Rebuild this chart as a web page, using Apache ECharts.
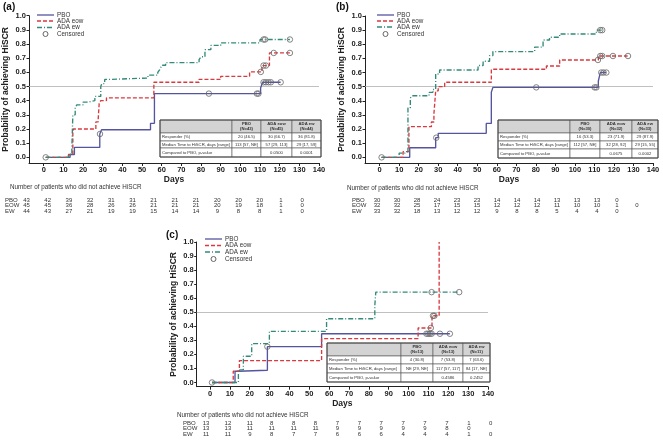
<!DOCTYPE html>
<html><head><meta charset="utf-8">
<script src="https://cdn.jsdelivr.net/npm/echarts@6/dist/echarts.min.js"></script>
<style>html,body{margin:0;padding:0;background:#fff}#c{width:663px;height:443px}</style>
</head><body><div id="c"></div>
<script>
const FONT = "'Liberation Sans', Arial, sans-serif";
const GROUPS = ['PBO', 'ADA eow', 'ADA ew'];
const LEGEND_ITEMS = ['PBO', 'ADA eow', 'ADA ew', 'Censored'];
const COLORS = ['#55559f', '#d93a3f', '#338a78'];
const LINE_TYPES = ['solid', [4, 2], [5, 2, 1, 2]];
const X_TICKS = [0, 10, 20, 30, 40, 50, 60, 70, 80, 90, 100, 110, 120, 130, 140];
const Y_TICKS = [0, 0.1, 0.2, 0.3, 0.4, 0.5, 0.6, 0.7, 0.8, 0.9, 1.0];
const PANEL_LABELS = ['(a)', '(b)', '(c)'];
const RISK_TITLE = 'Number of patients who did not achieve HiSCR';
const RISK_ROWS = ['PBO', 'EOW', 'EW'];
const TABLE_ROW_LABELS = ['Responder (%)', 'Median Time to HiSCR, days [range]', 'Compared to PBO, p-value'];

// ---- Panel (a) ----
const A_PBO = [[1,0],[13.4,0.02],[15.6,0.07],[28.5,0.165],[29.4,0.195],[54.3,0.24],[56.3,0.45],[110.3,0.49],[111.3,0.53],[120.5,0.53]];
const A_EOW = [[1,0],[12.6,0.02],[14.8,0.18],[15.1,0.2],[26.5,0.25],[27.7,0.27],[28.2,0.38],[29,0.4],[31.9,0.42],[56,0.53],[79,0.55],[90,0.572],[104.7,0.603],[111,0.648],[114.8,0.737],[125.2,0.737]];
const A_EW = [[1,0],[12.6,0.02],[14.3,0.07],[14.8,0.3],[16,0.35],[16.8,0.37],[20,0.39],[22.4,0.4],[26,0.43],[29,0.5],[29.5,0.52],[31,0.55],[33,0.56],[53,0.58],[58,0.6],[59,0.62],[60,0.65],[62,0.669],[79,0.69],[80,0.71],[82,0.76],[85,0.79],[90,0.808],[110,0.832],[125.2,0.832]];
const A_PBO_CENS = [[1,0],[28.6,0.165],[84,0.45],[108.4,0.45],[109.2,0.45],[111.8,0.53],[113,0.53],[114.3,0.53],[115.5,0.53],[120.5,0.53]];
const A_EOW_CENS = [[110.4,0.603],[111.8,0.648],[113,0.648],[117,0.737],[125.2,0.737]];
const A_EW_CENS = [[111.8,0.832],[112.6,0.832],[125.2,0.832]];
const A_HEAD = ['', 'PBO\n(N=43)', 'ADA eow\n(N=45)', 'ADA ew\n(N=44)'];
const A_RESP = ['20 (46.5)', '30 (66.7)', '36 (81.8)'];
const A_MEDIAN = ['113 [57, NE]', '57 [29, 113]', '29 [17, 59]'];
const A_PVAL = ['', '0.0500', '0.0001'];
const A_RISK_PBO = [43,42,39,32,31,31,21,21,21,20,20,20,1,0];
const A_RISK_EOW = [45,45,36,28,26,26,21,21,21,20,19,18,1,0];
const A_RISK_EW = [44,43,27,21,19,19,15,14,14,9,8,8,1,0];

// ---- Panel (b) ----
const B_PBO = [[1,0],[15.4,0.068],[28.7,0.139],[30,0.17],[54.6,0.24],[57.2,0.46],[58,0.495],[112,0.54],[113,0.6],[116,0.6]];
const B_EOW = [[1,0],[12,0.04],[15,0.217],[26.5,0.25],[27.8,0.31],[28.7,0.47],[30,0.5],[33.3,0.531],[57.2,0.623],[85.4,0.646],[92.2,0.689],[112,0.717],[127,0.717]];
const B_EW = [[1,0],[10,0.03],[12.8,0.04],[14.5,0.35],[15.7,0.42],[16.7,0.436],[25.3,0.46],[27.3,0.48],[28.7,0.59],[30.7,0.618],[50.4,0.65],[53,0.68],[56.3,0.72],[58,0.748],[79.4,0.78],[83.7,0.83],[87,0.85],[92.2,0.873],[111,0.9],[114,0.9]];
const B_PBO_CENS = [[1,0],[29,0.139],[80.2,0.495],[110.1,0.495],[111,0.495],[113.5,0.6],[114.7,0.6],[116.1,0.6]];
const B_EOW_CENS = [[111.8,0.689],[113,0.717],[114,0.717],[119.5,0.717],[127.2,0.717]];
const B_EW_CENS = [[113,0.9],[114,0.9]];
const B_HEAD = ['', 'PBO\n(N=30)', 'ADA eow\n(N=32)', 'ADA ew\n(N=33)'];
const B_RESP = ['16 (53.3)', '23 (71.9)', '29 (87.9)'];
const B_MEDIAN = ['112 [57, NE]', '32 [28, 92]', '29 [15, 55]'];
const B_PVAL = ['', '0.0675', '0.0002'];
const B_RISK_PBO = [30,30,28,24,23,23,14,14,14,13,13,13,0];
const B_RISK_EOW = [32,32,25,17,15,15,12,12,12,11,10,10,1,0];
const B_RISK_EW = [33,32,18,13,12,12,9,8,8,5,4,4,0];

// ---- Panel (c) ----
const C_PBO = [[1,0],[12.6,0.08],[14.3,0.087],[28.9,0.255],[56.2,0.347],[120.8,0.347]];
const C_EOW = [[1,0],[11.7,0.08],[14.8,0.156],[56.2,0.312],[104.8,0.388],[111.8,0.475],[115.4,1.0]];
const C_EW = [[1,0],[14.3,0.09],[16.8,0.187],[21,0.277],[29.9,0.364],[58.7,0.454],[83,0.55],[83.5,0.643],[125.5,0.643]];
const C_PBO_CENS = [[1,0],[28.9,0.255],[109,0.347],[109.9,0.347],[110.7,0.347],[111.6,0.347],[115.8,0.347],[120.8,0.347]];
const C_EOW_CENS = [[111.2,0.388],[112.3,0.475],[113,0.475]];
const C_EW_CENS = [[111.6,0.643],[125.5,0.643]];
const C_HEAD = ['', 'PBO\n(N=13)', 'ADA eow\n(N=13)', 'ADA ew\n(N=11)'];
const C_RESP = ['4 (30.8)', '7 (53.8)', '7 (63.6)'];
const C_MEDIAN = ['NE [29, NE]', '117 [57, 117]', '84 [17, NE]'];
const C_PVAL = ['', '0.4586', '0.2452'];
const C_RISK_PBO = [13,12,11,8,8,8,7,7,7,7,7,7,1,0];
const C_RISK_EOW = [13,13,11,11,11,11,9,9,9,9,9,8,0];
const C_RISK_EW = [11,11,9,8,7,7,6,6,6,4,4,4,1,0];

// ---- layout (positions only) ----
const panels = [
  { curves:[A_PBO,A_EOW,A_EW], cens:[A_PBO_CENS,A_EOW_CENS,A_EW_CENS],
    head:A_HEAD, body:[A_RESP,A_MEDIAN,A_PVAL], risk:[A_RISK_PBO,A_RISK_EOW,A_RISK_EW],
    grid:{left:27,top:15.7,width:292,height:147.3}, xmin:-7.5, ymin:-0.04,
    legend:{x:37, ys:[15,21,27.5,34]}, label:{x:3,y:7},
    tcols:[160,232,261,292,321], trows:[120,133,141,148,157],
    riskTitle:{x:10,y:187}, riskLabelX:5, riskX0:26.5, riskDX:21.2, riskY:[200,205.5,211] },
  { curves:[B_PBO,B_EOW,B_EW], cens:[B_PBO_CENS,B_EOW_CENS,B_EW_CENS],
    head:B_HEAD, body:[B_RESP,B_MEDIAN,B_PVAL], risk:[B_RISK_PBO,B_RISK_EOW,B_RISK_EW],
    grid:{left:365,top:16,width:288,height:147}, xmin:-7.5, ymin:-0.04,
    legend:{x:377, ys:[15,21,27,34]}, label:{x:336,y:7},
    tcols:[498,570,600,632,658], trows:[120,133,141,149,158],
    riskTitle:{x:347,y:188}, riskLabelX:352, riskX0:377, riskDX:20, riskY:[200,205.5,211] },
  { curves:[C_PBO,C_EOW,C_EW], cens:[C_PBO_CENS,C_EOW_CENS,C_EW_CENS],
    head:C_HEAD, body:[C_RESP,C_MEDIAN,C_PVAL], risk:[C_RISK_PBO,C_RISK_EOW,C_RISK_EW],
    grid:{left:196.7,top:242,width:291.3,height:144.7}, xmin:-6.7, ymin:-0.03,
    legend:{x:205, ys:[239,245.5,252,259]}, label:{x:166,y:235},
    tcols:[327,401,433,463,490], trows:[343,356,364,373,382],
    riskTitle:{x:177,y:415}, riskLabelX:183, riskX0:206, riskDX:21.9, riskY:[423,428.5,434] }
];

const grids = [], xAxes = [], yAxes = [], series = [], graphics = [];
const AX = '#222';
const CENS_STYLE = {color:'rgba(255,255,255,0)', borderColor:'#666', borderWidth:1};
panels.forEach((p, i) => {
  grids.push(Object.assign({containLabel:false}, p.grid));
  xAxes.push({ gridIndex:i, type:'value', min:p.xmin, max:140,
    axisLine:{show:true, onZero:false, lineStyle:{color:AX, width:1}},
    axisTick:{show:true, length:3, customValues:X_TICKS, lineStyle:{color:AX, width:1}},
    axisLabel:{customValues:X_TICKS, fontSize:7.5, fontWeight:'bold', color:AX, fontFamily:FONT, margin:3},
    splitLine:{show:false},
    name:'Days', nameLocation:'middle', nameGap:12,
    nameTextStyle:{fontSize:8.5, fontWeight:'bold', color:AX, fontFamily:FONT} });
  yAxes.push({ gridIndex:i, type:'value', min:p.ymin, max:1.0,
    axisLine:{show:true, onZero:false, lineStyle:{color:AX, width:1}},
    axisTick:{show:true, length:2.5, customValues:Y_TICKS, lineStyle:{color:AX, width:1}},
    axisLabel:{customValues:Y_TICKS, formatter:v => v.toFixed(1), fontSize:7.5, fontWeight:'bold', color:AX, fontFamily:FONT, margin:3},
    splitLine:{show:false},
    name:'Probability of achieving HiSCR', nameLocation:'middle', nameGap:19, nameRotate:90,
    nameTextStyle:{fontSize:8.5, fontWeight:'bold', color:AX, fontFamily:FONT} });
  p.curves.forEach((d, g) => {
    const s = { type:'line', name:GROUPS[g], xAxisIndex:i, yAxisIndex:i, data:d, step:'end',
      symbol:'none', z:3, color:COLORS[g],
      lineStyle:{color:COLORS[g], width:1.35, type:LINE_TYPES[g]} };
    if (g === 0) s.markLine = { silent:true, symbol:'none', label:{show:false}, z:1,
      lineStyle:{color:'#b0b0b0', width:0.8, type:'solid'}, data:[{yAxis:0.5}] };
    series.push(s);
  });
  p.cens.forEach((d) => {
    series.push({ type:'scatter', name:'Censored', xAxisIndex:i, yAxisIndex:i, data:d,
      symbol:'circle', symbolSize:5.5, z:4, itemStyle:CENS_STYLE });
  });
  // legend (drawn as graphics)
  LEGEND_ITEMS.forEach((name, k) => {
    const y = p.legend.ys[k];
    if (k < 3) {
      graphics.push({ type:'line', shape:{x1:p.legend.x, y1:y, x2:p.legend.x + 17, y2:y},
        style:{stroke:COLORS[k], lineWidth:1.3, lineDash: k === 0 ? null : LINE_TYPES[k]} });
    } else {
      graphics.push({ type:'circle', shape:{cx:p.legend.x + 8.5, cy:y, r:2.5},
        style:{fill:'none', stroke:'#666', lineWidth:1} });
    }
    graphics.push({ type:'text', x:p.legend.x + 20, y:y,
      style:{text:name, fontSize:6.3, fontFamily:FONT, fill:'#333', verticalAlign:'middle'} });
  });
  // panel label
  graphics.push({ type:'text', x:p.label.x, y:p.label.y,
    style:{text:PANEL_LABELS[i], fontSize:10, fontWeight:'bold', fontFamily:FONT, fill:'#111', verticalAlign:'middle'} });
  // results table
  const rowsText = [p.head].concat(p.body.map((b, r) => [TABLE_ROW_LABELS[r]].concat(b)));
  for (let r = 0; r < 4; r++) {
    for (let c = 0; c < 4; c++) {
      const x0 = p.tcols[c], x1 = p.tcols[c+1], y0 = p.trows[r], y1 = p.trows[r+1];
      graphics.push({ type:'rect', shape:{x:x0, y:y0, width:x1-x0, height:y1-y0},
        style:{fill: r === 0 ? '#d3d3d3' : '#fff', stroke:'#555', lineWidth:0.6}, z:10 });
      const t = rowsText[r][c];
      if (t) graphics.push({ type:'text', z:11,
        x: c === 0 ? x0 + 2 : (x0 + x1) / 2, y:(y0 + y1) / 2,
        style:{text:t, fontSize:4.2, lineHeight:4.7, fontWeight: r === 0 ? 'bold' : 'normal', fontFamily:FONT, fill:'#333',
          align: c === 0 ? 'left' : 'center', verticalAlign:'middle'} });
    }
  }
  graphics.push({ type:'rect', z:12, shape:{x:p.tcols[0], y:p.trows[0], width:p.tcols[4]-p.tcols[0], height:p.trows[4]-p.trows[0]},
    style:{fill:'none', stroke:'#444', lineWidth:1} });
  // at-risk table
  graphics.push({ type:'text', x:p.riskTitle.x, y:p.riskTitle.y,
    style:{text:RISK_TITLE, fontSize:6.3, fontFamily:FONT, fill:'#333', verticalAlign:'middle'} });
  p.risk.forEach((vals, r) => {
    graphics.push({ type:'text', x:p.riskLabelX, y:p.riskY[r],
      style:{text:RISK_ROWS[r], fontSize:6, fontFamily:FONT, fill:'#333', verticalAlign:'middle'} });
    vals.forEach((v, k) => {
      graphics.push({ type:'text', x:p.riskX0 + k * p.riskDX, y:p.riskY[r],
        style:{text:String(v), fontSize:6, fontFamily:FONT, fill:'#333', align:'center', verticalAlign:'middle'} });
    });
  });
});

const chart = echarts.init(document.getElementById('c'), null, {renderer:'canvas'});
chart.setOption({
  animation:false, backgroundColor:'#fff',
  textStyle:{fontFamily:FONT},
  grid:grids, xAxis:xAxes, yAxis:yAxes, series:series, graphic:graphics
});
</script></body></html>
